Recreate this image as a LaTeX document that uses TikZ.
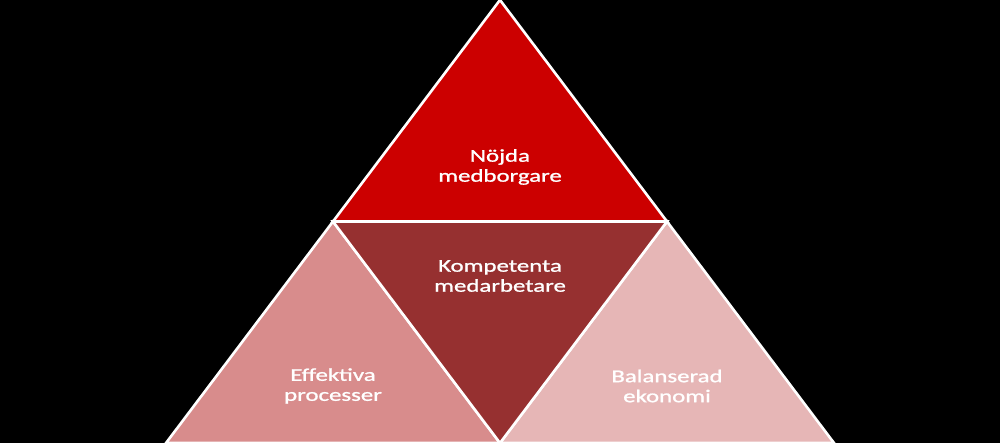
\documentclass[tikz,border=0pt]{standalone}
\usepackage{fontspec}
\newfontfamily\lbl[FakeStretch=1.38,FakeBold=1.2]{Carlito}
\definecolor{topred}{RGB}{204,0,0}
\definecolor{midred}{RGB}{150,48,48}
\definecolor{leftpink}{RGB}{216,140,140}
\definecolor{rightpink}{RGB}{230,182,182}
\tikzset{
  tri/.style={draw=white,line width=2.6pt,line join=miter},
  lab/.style={text=white,font=\lbl\fontsize{18}{20}\selectfont,align=center,inner sep=0pt}
}
\begin{document}
\begin{tikzpicture}[x=1pt,y=-1pt]
\fill[black] (0,0) rectangle (1000,443);
\useasboundingbox (0,0) rectangle (1000,443);
\coordinate (apex) at (500,0);
\coordinate (ml) at (333,221.5);
\coordinate (mr) at (667,221.5);
\coordinate (bl) at (166,443);
\coordinate (bm) at (500,443);
\coordinate (br) at (834,443);
\filldraw[tri,fill=leftpink] (ml) -- (bm) -- (bl) -- cycle;
\filldraw[tri,fill=rightpink] (mr) -- (br) -- (bm) -- cycle;
\filldraw[tri,fill=midred] (ml) -- (mr) -- (bm) -- cycle;
\filldraw[tri,fill=topred] (apex) -- (mr) -- (ml) -- cycle;
\node[lab] (top) at (500,167) {Nöjda\\medborgare};
\node[lab] (mid) at (500,276) {Kompetenta\\medarbetare};
\node[lab] (left) at (333,386) {Effektiva\\processer};
\node[lab] (right) at (667,386) {Balanserad\\ekonomi};
\end{tikzpicture}
\end{document}
